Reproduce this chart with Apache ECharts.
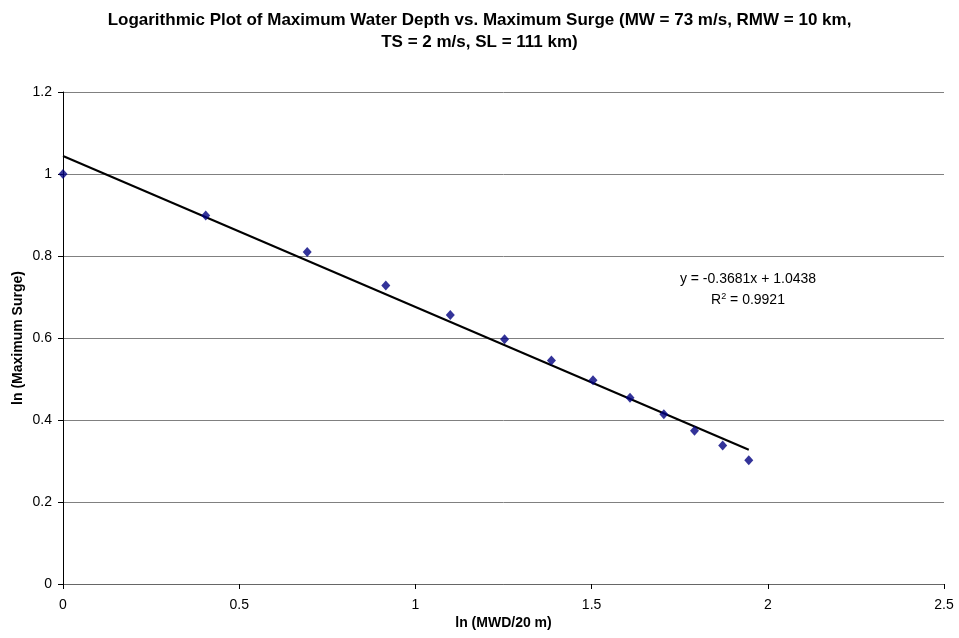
<!DOCTYPE html>
<html>
<head>
<meta charset="utf-8">
<script src="https://cdn.jsdelivr.net/npm/echarts@6/dist/echarts.min.js"></script>
<style>html,body{margin:0;padding:0;background:#fff}#c{width:959px;height:638px}</style>
</head>
<body>
<div id="c"></div>
<script>
// Data
const xValues = [0, 0.405, 0.693, 0.916, 1.099, 1.253, 1.386, 1.504, 1.609, 1.705, 1.792, 1.872, 1.946];
const yValues = [1.0, 0.899, 0.810, 0.728, 0.656, 0.597, 0.545, 0.497, 0.454, 0.414, 0.374, 0.338, 0.302];
const trendX = [0, 1.946];
const trendY = [1.0438, 0.3275];
const xTicks = [0, 0.5, 1, 1.5, 2, 2.5];
const yTicks = [0, 0.2, 0.4, 0.6, 0.8, 1, 1.2];
const titleText = 'Logarithmic Plot of Maximum Water Depth vs. Maximum Surge (MW = 73 m/s, RMW = 10 km,\nTS = 2 m/s, SL = 111 km)';
const eqLine1 = 'y = -0.3681x + 1.0438';
const eqLine2 = 'R{sup|2} = 0.9921';

const font = 'Arial, "Liberation Sans", Helvetica, sans-serif';
const chart = echarts.init(document.getElementById('c'), null, {renderer: 'canvas'});
chart.setOption({
  backgroundColor: '#fff',
  animation: false,
  title: {
    text: titleText,
    left: 'center',
    top: 4,
    textStyle: {fontFamily: font, fontSize: 17, fontWeight: 'bold', color: '#000', lineHeight: 22}
  },
  grid: {left: 63, right: 15, top: 92, bottom: 54, containLabel: false},
  xAxis: {
    type: 'value',
    min: xTicks[0], max: xTicks[xTicks.length - 1], interval: 0.5,
    name: 'ln (MWD/20 m)', nameLocation: 'middle', nameGap: 32, nameMoveOverlap: false,
    nameTextStyle: {fontFamily: font, fontSize: 14, fontWeight: 'bold', color: '#000'},
    axisLine: {show: true, lineStyle: {color: '#666', width: 1}},
    axisTick: {show: true, length: 5, lineStyle: {color: '#000'}},
    axisLabel: {fontFamily: font, fontSize: 14, color: '#000', margin: 14},
    splitLine: {show: false}
  },
  yAxis: {
    type: 'value',
    min: yTicks[0], max: yTicks[yTicks.length - 1], interval: 0.2,
    name: 'ln (Maximum Surge)', nameLocation: 'middle', nameGap: 38, nameRotate: 90, nameMoveOverlap: false,
    nameTextStyle: {fontFamily: font, fontSize: 14, fontWeight: 'bold', color: '#000'},
    axisLine: {show: true, onZero: false, lineStyle: {color: '#000', width: 1}},
    axisTick: {show: true, length: 5, lineStyle: {color: '#000'}},
    axisLabel: {fontFamily: font, fontSize: 14, color: '#000', margin: 11,
      formatter: v => String(Math.round(v * 10) / 10)},
    splitLine: {show: true, lineStyle: {color: '#808080', width: 1}}
  },
  series: [
    {
      type: 'line',
      data: trendX.map((x, i) => [x, trendY[i]]),
      showSymbol: false,
      symbol: 'none',
      lineStyle: {color: '#000', width: 2},
      z: 2
    },
    {
      type: 'scatter',
      data: xValues.map((x, i) => [x, yValues[i]]),
      symbol: 'diamond',
      symbolSize: [9, 10],
      itemStyle: {color: '#000080'},
      z: 3
    }
  ],
  graphic: [
    {
      type: 'text',
      x: 748, y: 290,
      style: {
        text: eqLine1 + '\n' + eqLine2,
        align: 'center',
        verticalAlign: 'middle',
        fontFamily: font, fontSize: 14, fill: '#000', lineHeight: 21,
        rich: {sup: {fontSize: 9, padding: [0, 0, 8, 0], fontFamily: font, fill: '#000'}}
      }
    }
  ]
});
</script>
</body>
</html>
